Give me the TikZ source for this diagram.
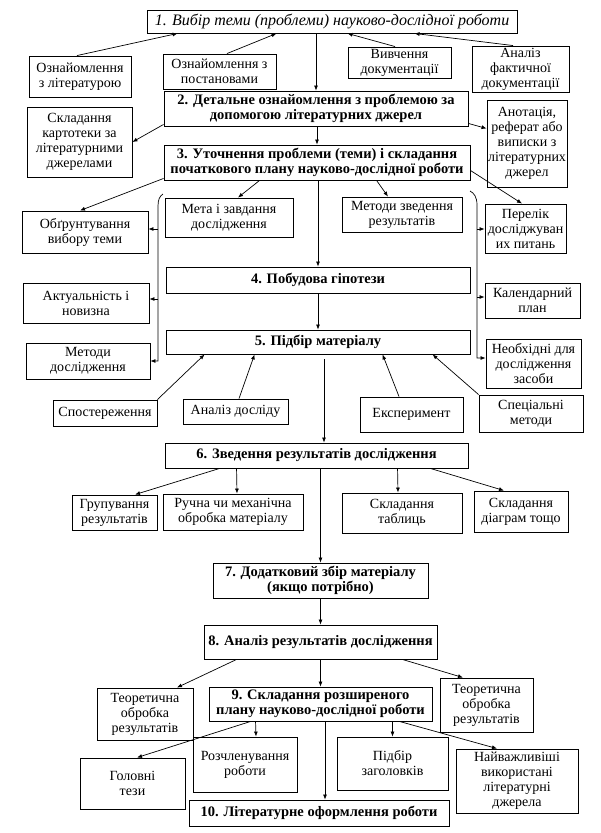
\documentclass[tikz,border=0pt]{standalone}
\usepackage{fontspec}
\setmainfont{Liberation Serif}
\usetikzlibrary{arrows.meta}
\newcommand{\bx}[7][box]{\node[#1, minimum width={#4-#2}, minimum height={#5-#3}] (#6) at ({(#2+#4)/2},{(#3+#5)/2}) {#7};}
\begin{document}
\begin{tikzpicture}[x=1pt,y=-1pt,
  box/.style={draw, line width=0.9pt, inner sep=0pt, align=center, font=\fontsize{14}{15}\selectfont},
  mainbox/.style={box, font=\fontsize{14.5}{15.5}\selectfont\bfseries},
  titlebox/.style={box, font=\fontsize{16}{17}\selectfont\itshape},
  arr/.style={line width=0.7pt, -{Latex[length=5pt,width=4pt]}},
  ln/.style={line width=0.7pt}]
\fill[white] (0,0) rectangle (601,833);
\useasboundingbox (0,0) rectangle (601,833);

% main chain
\bx[titlebox]{147}{10}{517}{33}{b1}{1. Вибір теми (проблеми) науково-дослідної роботи}
\bx[mainbox]{164}{91}{468}{126}{b2}{2. Детальне ознайомлення з проблемою за\\допомогою літературних джерел}
\bx[mainbox]{164}{145}{470}{180}{b3}{3. Уточнення проблеми (теми) і складання\\початкового плану науково-дослідної роботи}
\bx[mainbox]{166}{267}{470}{293}{b4}{4. Побудова гіпотези}
\bx[mainbox]{166}{330}{470}{354}{b5}{5. Підбір матеріалу}
\bx[mainbox]{165}{443}{468}{468}{b6}{6. Зведення результатів дослідження}
\bx[mainbox]{213}{563}{428}{598}{b7}{7. Додатковий збір матеріалу\\(якщо потрібно)}
\bx[mainbox]{204}{625}{437}{659}{b8}{8. Аналіз результатів дослідження}
\bx[mainbox]{209}{687}{432}{721}{b9}{9. Складання розширеного\\плану науково-дослідної роботи}
\bx[mainbox]{189}{800}{449}{826}{b10}{10. Літературне оформлення роботи}

% side boxes
\bx{29}{56}{131}{97}{oznlit}{Ознайомлення\\з літературою}
\bx{163}{54}{276}{89}{oznpost}{Ознайомлення з\\постановами}
\bx{348}{47}{451}{78}{vyvch}{Вивчення\\документації}
\bx{472}{46}{569}{92}{afakt}{Аналіз\\фактичної\\документації}
\bx{27}{107}{132}{177}{kart}{Складання\\картотеки за\\літературними\\джерелами}
\bx{487}{100}{567}{187}{anot}{Анотація,\\реферат або\\виписки з\\літературних\\джерел}
\bx{22}{211}{148}{253}{obgr}{Обґрунтування\\вибору теми}
\bx{165}{198}{293}{237}{meta}{Мета і завдання\\дослідження}
\bx{342}{197}{462}{232}{metzv}{Методи зведення\\результатів}
\bx{485}{204}{566}{253}{perelik}{Перелік\\досліджуван\\их питань}
\bx{23}{283}{149}{323}{aktual}{Актуальність і\\новизна}
\bx{485}{283}{580}{318}{kalend}{Календарний\\план}
\bx{26}{343}{150}{379}{metdosl}{Методи\\дослідження}
\bx{486}{339}{581}{388}{neobkh}{Необхідні для\\дослідження\\засоби}
\bx{53}{400}{157}{426}{sposter}{Спостереження}
\bx{183}{399}{288}{424}{adosl}{Аналіз досліду}
\bx{360}{397}{463}{432}{eksper}{Експеримент}
\bx{479}{395}{583}{432}{spets}{Спеціальні\\методи}
\bx{72}{495}{157}{530}{hrup}{Групування\\результатів}
\bx{163}{494}{303}{530}{ruchna}{Ручна чи механічна\\обробка матеріалу}
\bx{342}{493}{462}{533}{skltabl}{Складання\\таблиць}
\bx{474}{491}{568}{532}{skldiag}{Складання\\діаграм тощо}
\bx{97}{688}{193}{740}{teorl}{Теоретична\\обробка\\результатів}
\bx{440}{678}{533}{732}{teorr}{Теоретична\\обробка\\результатів}
\bx{193}{737}{297}{792}{rozchl}{Розчленування\\роботи}
\bx{80}{758}{185}{809}{holovni}{Головні\\тези}
\bx{337}{737}{448}{790}{pidbir}{Підбір\\заголовків}
\bx{456}{749}{578}{813}{naivazh}{Найважливіші\\використані\\літературні\\джерела}

% top arrows into b1
\draw[arr] ([xshift=-3pt]oznlit.north) -- ([xshift=31pt]b1.south west);
\draw[arr] ([xshift=7.5pt]oznpost.north) -- ([xshift=130pt]b1.south west);
\draw[arr] ([xshift=-4.5pt]vyvch.north) -- ([xshift=201pt]b1.south west);
\draw[arr] ([xshift=-7.5pt]afakt.north) -- ([xshift=268pt]b1.south west);
\draw[arr] (b2.north |- b1.south) -- (b2.north);

% b2
\draw[arr] ([yshift=2pt]b2.south west) -- (kart.east);
\draw[arr] ([yshift=3pt]b2.south east) -- ([yshift=15pt]anot.west);
\draw[arr] (b3.north |- b2.south) -- (b3.north);

% b3
\draw[arr] ([yshift=2pt]b3.south west) -- ([xshift=-5pt]obgr.north);
\draw[arr] ([xshift=96pt]b3.south west) -- ([xshift=9pt]meta.north);
\draw[arr] ([xshift=213pt]b3.south west) -- ([xshift=-14pt]metzv.north);
\draw[arr] ([yshift=10pt]b3.south east) -- ([xshift=-3.5pt]perelik.north);
\draw[arr] (b4.north |- b3.south) -- (b4.north);
\draw[arr] (b4.south) -- (b5.north);

% left bracket
\coordinate (lbtop) at (163,194);
\coordinate (lo) at (158,229);
\coordinate (la) at (158,299);
\draw[arr] (lbtop) .. controls (160,196) and (158,199) .. (158,206) -- (158,361) -- (metdosl.east |- 0,361);
\draw[arr] (lo) -- (lo -| obgr.east);
\draw[arr] (la) -- (la -| aktual.east);

% right bracket
\coordinate (rbtop) at (470,191);
\coordinate (rp) at (477,229);
\coordinate (rk) at (477,297);
\draw[arr] (rbtop) .. controls (474,193) and (477,197) .. (477,205) -- (477,358) -- (neobkh.west |- 0,358);
\draw[arr] (rp) -- (rp -| perelik.west);
\draw[arr] (rk) -- (rk -| kalend.west);

% into b5
\draw[arr] (sposter.north east) -- ([xshift=39pt]b5.south west);
\draw[arr] ([xshift=3.5pt]adosl.north) -- ([xshift=89pt]b5.south west);
\draw[arr] ([xshift=-12.5pt]eksper.north) -- ([xshift=217pt]b5.south west);
\draw[arr] (spets.north west) -- ([xshift=267pt]b5.south west);
\draw[arr] ([xshift=6pt,yshift=-5pt]b5.south) -- ([xshift=7.5pt]b6.north);

% b6
\draw[arr] ([xshift=55pt]b6.south west) -- ([xshift=20.5pt]hrup.north);
\draw[arr] ([xshift=72pt]b6.south west) -- ([xshift=4pt]ruchna.north);
\draw[arr] ([xshift=233pt]b6.south west) -- ([xshift=-4pt]skltabl.north);
\draw[arr] ([xshift=-38pt]b6.south east) -- ([xshift=-17pt]skldiag.north);
\draw[arr] (b7.north |- b6.south) -- (b7.north);

% b7, b8
\draw[arr] (b7.south) -- (b8.north);
\draw[arr] ([xshift=33pt]b8.south west) -- ([xshift=32pt]teorl.north);
\draw[arr] (b8.south) -- (b9.north);
\draw[arr] ([xshift=-35pt]b8.south east) -- ([xshift=-23.5pt]teorr.north);

% b9
\draw[arr] ([xshift=42pt]b9.south west) -- ([xshift=4.5pt]holovni.north);
\draw[arr] ([xshift=47pt]b9.south west) -- ([xshift=11pt]rozchl.north);
\draw[arr] ([xshift=4.5pt]b9.south) -- ([xshift=6pt]b10.north);
\draw[arr] (pidbir.north |- b9.south) -- (pidbir.north);
\draw[arr] ([xshift=191pt]b9.south west) -- ([xshift=-20pt]naivazh.north);
\end{tikzpicture}
\end{document}
